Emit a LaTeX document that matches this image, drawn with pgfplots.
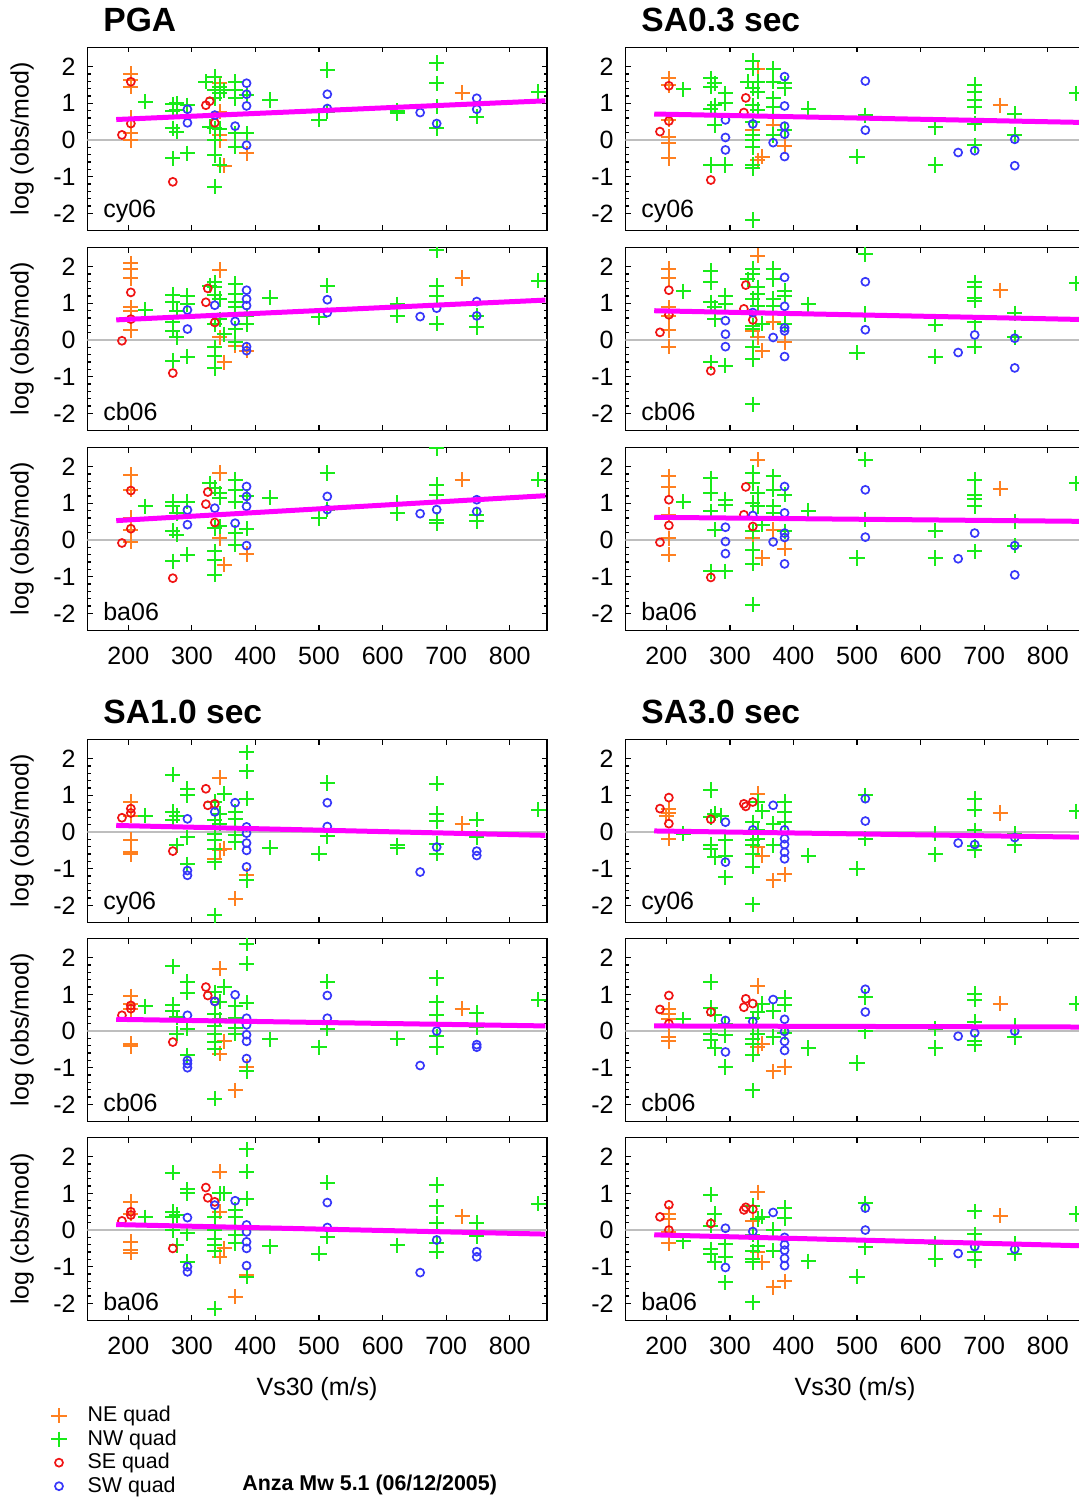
\documentclass[border=0pt]{standalone}
\usepackage{pgfplots}
\pgfplotsset{compat=1.18}
\usepackage{fontspec}
\setmainfont{Liberation Sans}
\definecolor{neor}{RGB}{255,128,32}
\definecolor{nwgr}{RGB}{25,235,25}
\definecolor{sered}{RGB}{240,20,20}
\definecolor{swbl}{RGB}{55,55,250}
\definecolor{trendm}{RGB}{255,0,255}
\definecolor{zgray}{RGB}{190,190,190}
\tikzset{model/.style={anchor=west, font=\fontsize{12.5}{14}\selectfont, inner sep=0pt}}
\pgfplotsset{
  panel/.style={
    anchor=north west, scale only axis, width=229.75pt, height=91.65pt,
    xmin=135.5, xmax=858.2, ymin=-2.47, ymax=2.53,
    xtick={200,300,400,500,600,700,800}, xticklabels={},
    ytick={-2,-1,0,1,2}, yticklabels={-2,-1,0,1,2},
    minor y tick num=4,
    tick align=inside,
    major tick length=2.6pt, minor tick length=1.6pt,
    every tick/.style={black, line width=0.6pt},
    axis line style={black, line width=0.7pt},
    tick label style={font=\fontsize{12.5}{14}\selectfont},
    yticklabel style={xshift=-2.3pt},
    xticklabel style={yshift=-4.5pt},
    label style={font=\fontsize{12.5}{14}\selectfont},
    ylabel style={at={(axis description cs:-0.142,0.5)}, anchor=center},
    clip=true, clip marker paths=true,
  },
  bottomrow/.style={xticklabels={200,300,400,500,600,700,800}},
  ne/.style={only marks, mark=+, mark size=3.8pt, color=neor, mark options={line width=1pt, draw=neor}},
  nw/.style={only marks, mark=+, mark size=3.8pt, color=nwgr, mark options={line width=1pt, draw=nwgr}},
  se/.style={only marks, mark=o, mark size=2.0pt, color=sered, mark options={line width=0.85pt, draw=sered}},
  sw/.style={only marks, mark=o, mark size=2.0pt, color=swbl, mark options={line width=0.85pt, draw=swbl}},
  trend/.style={no marks, color=trendm, line width=2.5pt, forget plot},
  zl/.style={no marks, color=zgray, line width=0.7pt, forget plot},
}
\begin{document}
\begin{tikzpicture}
\useasboundingbox (0,0) rectangle (539.5pt,-749pt);
\node[anchor=west, font=\fontsize{16.8}{18}\selectfont\bfseries, inner sep=0pt] at (51.5pt,-10pt) {PGA};
\node[anchor=west, font=\fontsize{16.8}{18}\selectfont\bfseries, inner sep=0pt] at (320.5pt,-10pt) {SA0.3 sec};
\node[anchor=west, font=\fontsize{16.8}{18}\selectfont\bfseries, inner sep=0pt] at (51.5pt,-356pt) {SA1.0 sec};
\node[anchor=west, font=\fontsize{16.8}{18}\selectfont\bfseries, inner sep=0pt] at (320.5pt,-356pt) {SA3.0 sec};
\node[font=\fontsize{12.5}{14}\selectfont] at (158.5pt,-694.5pt) {Vs30 (m/s)};
\node[font=\fontsize{12.5}{14}\selectfont] at (427.5pt,-694.5pt) {Vs30 (m/s)};
\node[anchor=west, font=\fontsize{10.7}{12}\selectfont\bfseries, inner sep=0pt] at (121pt,-742.5pt) {Anza Mw 5.1 (06/12/2005)};

% ---------- PGA cy06
\begin{axis}[panel, at={(43.65pt,-23.65pt)}, ylabel={log (obs/mod)}]
\addplot[zl] coordinates {(135.5,0) (858.2,0)};
\addplot[ne] coordinates {(204,1.8) (204,1.65) (204,1.45) (204,0.6) (204,0.2) (204,0.0) (344,1.55) (344,0.77) (344,0.14) (344,0.0) (351,-0.7) (386,-0.36) (725,1.29)};
\addplot[nw] coordinates {(227,1.05) (270,0.98) (276,1.0) (270,0.8) (276,0.82) (270,0.32) (276,0.23) (270,-0.5) (293,0.95) (293,-0.36) (322,1.59) (336,1.73) (336,1.36) (344,1.45) (344,1.27) (336,1.14) (351,1.36) (328,0.36) (336,0.32) (344,0.3) (336,0.0) (336,-0.41) (344,-0.68) (336,-1.27) (368,1.59) (368,1.36) (368,1.14) (368,0.18) (368,-0.18) (386,1.23) (386,0.18) (423,1.09) (500,0.55) (513,1.91) (513,0.77) (623,0.8) (623,0.73) (685,2.1) (685,1.55) (685,0.91) (685,0.32) (748,0.64) (845,1.32)};
\addplot[se] coordinates {(204,1.59) (190,0.14) (204,0.45) (270,-1.14) (322,0.95) (328,1.06) (336,0.47)};
\addplot[sw] coordinates {(293,0.84) (293,0.47) (336,0.68) (368,0.38) (386,1.55) (386,1.25) (386,0.93) (386,-0.14) (513,1.25) (513,0.86) (659,0.75) (685,0.45) (748,1.14) (748,0.84)};
\addplot[trend] coordinates {(181,0.56) (856,1.07)};
\node[model] at (rel axis cs:0.034,0.104) {cy06};
\end{axis}

% ---------- PGA cb06
\begin{axis}[panel, at={(43.65pt,-123.65pt)}, ylabel={log (obs/mod)}]
\addplot[zl] coordinates {(135.5,0) (858.2,0)};
\addplot[ne] coordinates {(204,2.09) (204,1.95) (204,1.68) (204,0.89) (204,0.8) (204,0.27) (344,1.91) (344,0.07) (351,-0.61) (368,-0.15) (386,-0.29) (725,1.69)};
\addplot[nw] coordinates {(227,0.82) (270,1.24) (270,1.03) (270,0.48) (270,0.25) (270,-0.56) (276,0.07) (276,0.8) (293,1.21) (293,0.98) (293,-0.45) (328,1.48) (336,1.57) (336,1.44) (336,1.24) (344,1.12) (336,0.44) (336,-0.2) (336,-0.43) (336,-0.76) (351,0.16) (344,0.57) (368,1.53) (368,1.25) (368,1.03) (368,0.89) (368,0.3) (368,-0.06) (386,0.66) (386,0.44) (423,1.16) (500,0.62) (513,1.48) (623,0.98) (623,0.66) (685,2.45) (685,1.48) (685,1.21) (685,0.45) (748,0.66) (748,0.35) (845,1.62)};
\addplot[se] coordinates {(204,1.3) (204,0.57) (190,-0.02) (270,-0.9) (322,1.03) (325,1.41) (336,0.48)};
\addplot[sw] coordinates {(293,0.82) (293,0.3) (336,0.95) (368,0.51) (386,1.36) (386,1.12) (386,0.94) (386,-0.18) (386,-0.29) (513,1.1) (513,0.75) (659,0.64) (685,0.87) (748,1.05) (748,0.66)};
\addplot[trend] coordinates {(181,0.55) (856,1.09)};
\node[model] at (rel axis cs:0.034,0.104) {cb06};
\end{axis}

% ---------- PGA ba06
\begin{axis}[panel, bottomrow, at={(43.65pt,-223.65pt)}, ylabel={log (obs/mod)}]
\addplot[zl] coordinates {(135.5,0) (858.2,0)};
\addplot[ne] coordinates {(204,1.78) (204,1.37) (204,0.6) (204,0.28) (204,-0.04) (344,1.83) (344,0.05) (351,-0.67) (386,-0.38) (725,1.65)};
\addplot[nw] coordinates {(227,0.92) (270,1.05) (270,0.92) (270,0.25) (270,-0.58) (276,0.15) (276,0.74) (293,1.05) (293,-0.4) (328,1.55) (336,1.42) (344,1.28) (344,1.15) (336,0.33) (336,-0.31) (336,-0.54) (336,-0.95) (344,0.37) (368,1.65) (368,1.37) (368,1.05) (368,0.19) (368,-0.13) (386,1.19) (386,0.31) (423,1.15) (500,0.6) (513,1.83) (513,0.83) (623,1.01) (623,0.74) (685,2.5) (685,1.51) (685,1.24) (685,0.55) (685,0.46) (748,0.69) (748,0.51) (845,1.65)};
\addplot[se] coordinates {(204,1.35) (204,0.31) (190,-0.08) (270,-1.04) (322,0.98) (325,1.31) (336,0.48)};
\addplot[sw] coordinates {(293,0.82) (293,0.42) (336,0.87) (368,0.46) (386,1.46) (386,1.19) (386,0.92) (386,-0.15) (513,1.19) (513,0.83) (659,0.72) (685,0.83) (748,1.1) (748,0.78)};
\addplot[trend] coordinates {(181,0.53) (856,1.21)};
\node[model] at (rel axis cs:0.034,0.104) {ba06};
\end{axis}

% ---------- SA0.3 cy06
\begin{axis}[panel, at={(312.65pt,-23.65pt)}]
\addplot[zl] coordinates {(135.5,0) (858.2,0)};
\addplot[ne] coordinates {(204,1.68) (204,1.5) (204,0.55) (204,0.09) (204,-0.09) (204,-0.5) (344,1.95) (336,0.27) (336,-0.18) (351,-0.45) (344,-0.55) (368,0.41) (386,-0.16) (725,0.95)};
\addplot[nw] coordinates {(227,1.38) (270,1.68) (270,1.45) (270,0.86) (276,0.95) (276,0.41) (270,-0.68) (276,1.55) (293,1.27) (293,1.0) (293,-0.68) (336,2.16) (336,1.95) (328,1.59) (336,1.41) (344,1.59) (344,1.32) (336,0.95) (344,0.82) (336,0.5) (336,0.14) (336,0.0) (336,-0.2) (336,-0.68) (336,-0.77) (336,-2.18) (368,1.95) (368,1.59) (368,1.14) (368,0.91) (368,0.14) (386,1.55) (386,1.41) (386,0.27) (423,0.86) (500,-0.45) (513,0.68) (623,0.35) (623,-0.68) (685,1.5) (685,1.32) (685,1.09) (685,0.91) (685,0.45) (685,-0.14) (748,0.71) (748,0.14) (845,1.27)};
\addplot[se] coordinates {(204,1.48) (204,0.52) (190,0.23) (270,-1.09) (325,1.15) (322,0.75)};
\addplot[sw] coordinates {(293,0.55) (293,0.07) (293,-0.27) (336,0.44) (368,-0.07) (386,1.73) (386,0.93) (386,0.38) (386,0.16) (386,-0.45) (513,1.61) (513,0.27) (659,-0.34) (685,-0.29) (748,0.02) (748,-0.7)};
\addplot[trend] coordinates {(181,0.71) (856,0.48)};
\node[model] at (rel axis cs:0.034,0.104) {cy06};
\end{axis}

% ---------- SA0.3 cb06
\begin{axis}[panel, at={(312.65pt,-123.65pt)}]
\addplot[zl] coordinates {(135.5,0) (858.2,0)};
\addplot[ne] coordinates {(204,1.94) (204,1.69) (204,0.89) (204,0.66) (204,0.27) (204,-0.18) (344,2.3) (344,0.07) (351,-0.29) (368,0.48) (386,-0.06) (336,0.25) (725,1.36)};
\addplot[nw] coordinates {(227,1.33) (270,1.89) (270,1.57) (270,1.03) (276,0.89) (276,0.57) (270,-0.61) (293,1.21) (293,0.98) (293,-0.7) (336,1.94) (336,1.8) (328,1.66) (344,1.44) (344,1.25) (336,1.12) (344,0.94) (336,0.39) (336,0.3) (336,-0.2) (336,-0.52) (336,-1.75) (351,0.45) (368,1.94) (368,1.66) (368,1.12) (368,0.94) (386,1.35) (386,1.21) (386,0.44) (423,0.98) (500,-0.35) (513,2.35) (513,0.71) (623,0.42) (623,-0.45) (685,1.57) (685,1.44) (685,1.15) (685,1.07) (685,0.48) (685,-0.18) (748,0.73) (748,0.07) (845,1.55)};
\addplot[se] coordinates {(204,1.36) (204,0.69) (190,0.21) (270,-0.84) (325,1.5) (322,0.85) (336,0.55)};
\addplot[sw] coordinates {(293,0.53) (293,0.16) (293,-0.18) (336,0.75) (368,0.07) (386,1.71) (386,0.92) (386,0.33) (386,0.25) (386,-0.45) (513,1.59) (513,0.28) (659,-0.34) (685,0.14) (748,0.05) (748,-0.76)};
\addplot[trend] coordinates {(181,0.8) (856,0.56)};
\node[model] at (rel axis cs:0.034,0.104) {cb06};
\end{axis}

% ---------- SA0.3 ba06
\begin{axis}[panel, bottomrow, at={(312.65pt,-223.65pt)}]
\addplot[zl] coordinates {(135.5,0) (858.2,0)};
\addplot[ne] coordinates {(204,1.74) (204,1.44) (204,0.69) (204,0.05) (204,-0.4) (344,2.19) (336,0.05) (351,-0.49) (368,0.28) (386,-0.24) (725,1.4)};
\addplot[nw] coordinates {(227,1.05) (270,1.69) (270,1.28) (270,0.78) (276,0.28) (270,-0.85) (293,1.1) (293,0.96) (293,-0.85) (336,1.83) (336,1.55) (344,1.28) (336,1.01) (344,0.92) (336,0.24) (336,-0.26) (336,-0.65) (336,-1.76) (351,0.42) (368,1.74) (368,1.37) (368,0.92) (368,0.74) (386,1.24) (386,0.24) (423,0.8) (500,-0.49) (513,2.19) (513,0.55) (623,0.25) (623,-0.49) (685,1.65) (685,1.24) (685,1.13) (685,0.92) (685,-0.31) (748,0.51) (748,-0.15) (845,1.55)};
\addplot[se] coordinates {(204,1.1) (204,0.4) (190,-0.06) (270,-1.02) (325,1.45) (322,0.69) (336,0.37)};
\addplot[sw] coordinates {(293,0.35) (293,-0.04) (293,-0.37) (336,0.67) (368,-0.05) (386,1.46) (386,0.74) (386,0.19) (386,0.07) (386,-0.65) (513,1.37) (513,0.08) (659,-0.51) (685,0.19) (748,-0.15) (748,-0.95)};
\addplot[trend] coordinates {(181,0.62) (856,0.51)};
\node[model] at (rel axis cs:0.034,0.104) {ba06};
\end{axis}

% ---------- SA1.0 cy06
\begin{axis}[panel, at={(43.65pt,-369.65pt)}, ylabel={log (obs/mod)}]
\addplot[zl] coordinates {(135.5,0) (858.2,0)};
\addplot[ne] coordinates {(204,0.82) (204,0.45) (204,-0.21) (204,-0.55) (204,-0.61) (344,1.48) (344,-0.5) (351,-0.45) (336,-0.73) (368,-1.82) (386,-1.18) (725,0.23)};
\addplot[nw] coordinates {(227,0.45) (270,1.57) (270,0.55) (270,0.32) (276,0.45) (276,-0.36) (293,1.18) (293,1.0) (293,-0.14) (293,-0.88) (336,0.82) (351,1.05) (336,0.32) (344,0.23) (336,-0.05) (336,-0.23) (336,-0.45) (336,-0.82) (336,-2.27) (344,0.5) (368,0.55) (368,0.36) (368,-0.09) (368,-0.27) (386,2.18) (386,1.66) (386,0.91) (386,-1.32) (423,-0.43) (500,-0.59) (513,1.34) (513,-0.12) (623,-0.36) (623,-0.43) (685,1.32) (685,0.5) (685,0.3) (685,-0.32) (685,-0.59) (748,0.34) (748,-0.14) (845,0.61)};
\addplot[se] coordinates {(204,0.64) (204,0.52) (190,0.39) (270,-0.52) (322,1.18) (325,0.73) (336,0.77)};
\addplot[sw] coordinates {(293,0.36) (293,-1.05) (293,-1.18) (336,0.55) (368,0.8) (386,0.14) (386,-0.03) (386,-0.3) (386,-0.5) (386,-0.95) (513,0.8) (513,0.15) (659,-1.09) (685,-0.41) (748,-0.52) (748,-0.64)};
\addplot[trend] coordinates {(181,0.18) (856,-0.09)};
\node[model] at (rel axis cs:0.034,0.104) {cy06};
\end{axis}

% ---------- SA1.0 cb06
\begin{axis}[panel, at={(43.65pt,-469.15pt)}, ylabel={log (obs/mod)}]
\addplot[zl] coordinates {(135.5,0) (858.2,0)};
\addplot[ne] coordinates {(204,0.95) (204,0.75) (204,0.59) (204,-0.35) (204,-0.41) (344,1.7) (344,-0.62) (351,-0.28) (368,-1.62) (386,-0.98) (725,0.61)};
\addplot[nw] coordinates {(227,0.68) (270,1.77) (270,0.72) (270,0.56) (276,0.38) (276,-0.07) (293,1.34) (293,1.05) (293,0.06) (293,-0.66) (351,1.2) (336,1.06) (344,0.8) (336,0.47) (344,0.32) (336,0.14) (336,-0.07) (336,-0.3) (336,-0.48) (336,-1.85) (368,0.68) (368,0.35) (368,0.08) (368,-0.07) (386,2.38) (386,1.84) (386,0.77) (386,-1.1) (423,-0.23) (500,-0.44) (513,1.35) (513,0.06) (623,-0.21) (685,1.45) (685,0.79) (685,0.43) (685,-0.14) (685,-0.44) (748,0.5) (748,0.11) (845,0.86)};
\addplot[se] coordinates {(204,0.7) (204,0.61) (190,0.43) (270,-0.3) (322,1.2) (325,0.97) (336,0.81)};
\addplot[sw] coordinates {(293,0.43) (293,-0.8) (293,-0.89) (293,-1.0) (336,0.81) (368,0.99) (386,0.35) (386,0.17) (386,-0.1) (386,-0.28) (386,-0.75) (513,0.97) (513,0.35) (659,-0.94) (685,0.0) (748,-0.37) (748,-0.44)};
\addplot[trend] coordinates {(181,0.32) (856,0.14)};
\node[model] at (rel axis cs:0.034,0.104) {cb06};
\end{axis}

% ---------- SA1.0 ba06
\begin{axis}[panel, bottomrow, at={(43.65pt,-568.65pt)}, ylabel={log (cbs/mod)},
  legend style={at={(axis description cs:-0.079,-0.444)}, anchor=north west, draw=none, fill=none,
    font=\fontsize{10.7}{12}\selectfont, cells={anchor=west}, row sep=-1.5pt, column sep=8.5pt, inner sep=0pt},
  legend entries={NE quad, NW quad, SE quad, SW quad}]
\addplot[zl] coordinates {(135.5,0) (858.2,0)};
\addplot[ne] coordinates {(204,0.77) (204,0.45) (204,-0.32) (204,-0.55) (204,-0.62) (344,1.59) (344,-0.73) (351,-0.5) (368,-1.82) (386,-1.23) (344,0.5) (725,0.38)};
\addplot[nw] coordinates {(227,0.35) (270,1.56) (270,0.5) (270,0.35) (276,0.41) (276,-0.41) (270,0.0) (293,1.11) (293,1.0) (293,-0.09) (293,-0.86) (344,1.0) (351,1.0) (336,0.36) (336,0.0) (336,-0.23) (336,-0.41) (336,-0.56) (336,-2.14) (368,0.55) (368,0.35) (368,-0.14) (368,-0.36) (386,2.2) (386,1.59) (386,0.86) (386,-1.27) (423,-0.44) (500,-0.65) (513,1.29) (513,-0.18) (623,-0.41) (685,1.23) (685,0.65) (685,0.18) (685,-0.36) (685,-0.59) (748,0.2) (748,-0.16) (845,0.72)};
\addplot[se] coordinates {(204,0.5) (204,0.41) (190,0.25) (270,-0.5) (322,1.16) (325,0.88) (336,0.77)};
\addplot[sw] coordinates {(293,0.34) (293,-1.0) (293,-1.14) (336,0.68) (368,0.8) (386,0.14) (386,-0.05) (386,-0.32) (386,-0.5) (386,-0.97) (513,0.75) (513,0.07) (659,-1.16) (685,-0.27) (748,-0.59) (748,-0.73)};
\addplot[trend] coordinates {(181,0.15) (856,-0.11)};
\node[model] at (rel axis cs:0.034,0.104) {ba06};
\end{axis}

% ---------- SA3.0 cy06
\begin{axis}[panel, at={(312.65pt,-369.65pt)}]
\addplot[zl] coordinates {(135.5,0) (858.2,0)};
\addplot[ne] coordinates {(204,0.64) (204,0.52) (200,0.45) (204,-0.18) (344,1.05) (344,-0.41) (351,-0.64) (368,-1.32) (386,-1.15) (725,0.52)};
\addplot[nw] coordinates {(227,-0.05) (270,1.15) (270,0.41) (276,0.5) (270,-0.34) (270,-0.45) (276,-0.68) (293,-0.23) (293,-0.64) (293,-1.23) (286,0.45) (344,0.82) (351,0.57) (336,0.27) (344,0.05) (336,-0.23) (336,-0.36) (344,-0.2) (336,-0.59) (336,-0.95) (336,-1.97) (368,0.23) (368,-0.36) (386,0.82) (386,0.55) (386,0.27) (423,-0.64) (500,-1.0) (513,1.0) (513,-0.18) (623,-0.05) (623,-0.61) (685,0.91) (685,0.61) (685,0.05) (685,-0.39) (685,-0.5) (748,-0.05) (748,-0.36) (845,0.57)};
\addplot[se] coordinates {(204,0.94) (190,0.64) (204,0.23) (270,0.35) (322,0.77) (325,0.7) (336,0.82)};
\addplot[sw] coordinates {(293,0.27) (293,-0.82) (336,0.06) (368,0.73) (386,0.06) (386,-0.18) (386,-0.34) (386,-0.55) (386,-0.73) (513,0.91) (513,0.3) (659,-0.3) (685,-0.34) (748,-0.15)};
\addplot[trend] coordinates {(181,0.03) (856,-0.14)};
\node[model] at (rel axis cs:0.034,0.104) {cy06};
\end{axis}

% ---------- SA3.0 cb06
\begin{axis}[panel, at={(312.65pt,-469.15pt)}]
\addplot[zl] coordinates {(135.5,0) (858.2,0)};
\addplot[ne] coordinates {(204,0.59) (204,0.47) (204,0.32) (204,-0.16) (204,-0.28) (344,1.23) (344,-0.44) (351,-0.35) (368,-1.1) (386,-0.98) (725,0.75)};
\addplot[nw] coordinates {(227,0.32) (270,1.34) (270,0.63) (276,0.45) (270,-0.07) (270,-0.25) (276,-0.46) (293,0.2) (293,-0.12) (293,-0.98) (351,0.75) (344,0.52) (336,0.35) (336,0.15) (344,-0.07) (336,-0.21) (336,-0.35) (336,-0.65) (336,-1.62) (368,0.54) (368,-0.16) (386,0.9) (386,0.72) (386,-0.05) (423,-0.46) (500,-0.87) (513,0.93) (513,-0.01) (623,0.06) (623,-0.46) (685,1.02) (685,0.86) (685,0.25) (685,-0.28) (685,-0.37) (748,0.14) (748,-0.16) (845,0.75)};
\addplot[se] coordinates {(204,0.97) (190,0.59) (204,0.2) (270,0.52) (325,0.88) (322,0.65) (336,0.75)};
\addplot[sw] coordinates {(293,0.29) (293,-0.57) (336,0.26) (368,0.86) (386,0.32) (386,-0.01) (386,-0.28) (386,-0.53) (513,1.14) (513,0.52) (659,-0.14) (685,-0.05) (748,0.0)};
\addplot[trend] coordinates {(181,0.14) (856,0.11)};
\node[model] at (rel axis cs:0.034,0.104) {cb06};
\end{axis}

% ---------- SA3.0 ba06
\begin{axis}[panel, bottomrow, at={(312.65pt,-568.65pt)}]
\addplot[zl] coordinates {(135.5,0) (858.2,0)};
\addplot[ne] coordinates {(204,0.44) (204,0.3) (204,-0.06) (204,-0.36) (344,1.03) (344,-0.61) (351,-0.88) (368,-1.56) (386,-1.4) (336,0.25) (725,0.39)};
\addplot[nw] coordinates {(227,-0.31) (270,0.96) (270,0.12) (276,0.44) (270,-0.52) (270,-0.65) (276,-0.88) (293,-0.38) (293,-0.73) (293,-1.43) (336,0.66) (344,0.3) (351,0.36) (336,-0.13) (344,-0.43) (336,-0.58) (336,-0.79) (336,-0.88) (336,-1.97) (368,0.0) (368,-0.56) (386,0.6) (386,0.33) (423,-0.85) (500,-1.27) (513,0.73) (513,-0.47) (623,-0.38) (623,-0.79) (685,0.51) (685,-0.11) (685,-0.61) (685,-0.82) (748,-0.38) (748,-0.65) (845,0.44)};
\addplot[se] coordinates {(204,0.69) (190,0.36) (204,0.0) (270,0.18) (325,0.62) (322,0.55) (336,0.57)};
\addplot[sw] coordinates {(293,0.05) (293,-1.02) (336,-0.04) (368,0.48) (386,-0.2) (386,-0.4) (386,-0.55) (386,-0.77) (386,-0.97) (513,0.6) (513,0.0) (659,-0.64) (685,-0.45) (748,-0.52)};
\addplot[trend] coordinates {(181,-0.13) (856,-0.43)};
\node[model] at (rel axis cs:0.034,0.104) {ba06};
\end{axis}
\end{tikzpicture}
\end{document}
